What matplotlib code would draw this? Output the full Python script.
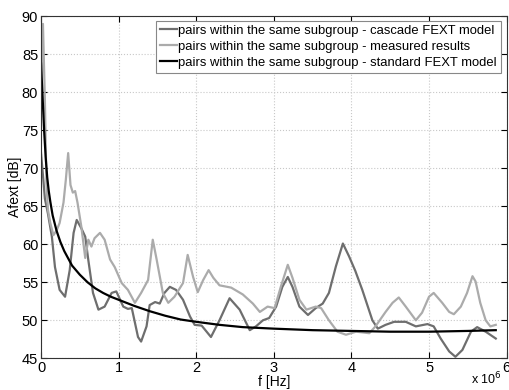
import matplotlib
matplotlib.use("Agg")
import matplotlib.pyplot as plt

# frequencies in units of 1e6 Hz
f_cascade = [0.0, 0.03, 0.05, 0.09, 0.14, 0.18, 0.24, 0.31, 0.37, 0.42, 0.46, 0.52,
             0.57, 0.61, 0.67, 0.74, 0.82, 0.91, 0.97, 1.06, 1.12, 1.17, 1.25, 1.29,
             1.36, 1.40, 1.47, 1.53, 1.59, 1.66, 1.74, 1.83, 1.92, 1.98, 2.07, 2.19,
             2.30, 2.43, 2.56, 2.69, 2.77, 2.86, 2.94, 3.03, 3.11, 3.18, 3.24, 3.33,
             3.44, 3.54, 3.63, 3.71, 3.80, 3.89, 3.97, 4.05, 4.14, 4.27, 4.34, 4.44,
             4.55, 4.70, 4.83, 4.98, 5.06, 5.15, 5.26, 5.34, 5.43, 5.54, 5.62, 5.73,
             5.86]
a_cascade = [72.0, 68.5, 66.0, 64.0, 61.0, 57.0, 54.0, 53.1, 56.6, 61.5, 63.2, 62.1,
             61.0, 57.9, 53.6, 51.4, 51.8, 53.6, 53.8, 51.8, 51.5, 51.6, 47.8, 47.2,
             49.2, 52.0, 52.4, 52.2, 53.6, 54.4, 54.0, 52.7, 50.5, 49.4, 49.3, 47.8,
             50.0, 52.9, 51.4, 48.7, 49.2, 50.0, 50.3, 51.8, 54.4, 55.7, 54.4, 51.8,
             50.7, 51.6, 52.2, 53.6, 57.1, 60.1, 58.4, 56.5, 54.0, 50.0, 48.9, 49.4,
             49.8, 49.8, 49.2, 49.5, 49.2, 47.6, 45.9, 45.2, 46.1, 48.5, 49.1, 48.5,
             47.6]

f_measured = [0.0, 0.025, 0.05, 0.07, 0.09, 0.12, 0.16, 0.20, 0.24, 0.29, 0.32, 0.35,
              0.38, 0.41, 0.44, 0.47, 0.52, 0.57, 0.61, 0.65, 0.69, 0.76, 0.82, 0.89,
              0.95, 1.04, 1.12, 1.21, 1.29, 1.38, 1.44, 1.49, 1.57, 1.64, 1.72, 1.83,
              1.89, 1.96, 2.02, 2.09, 2.16, 2.22, 2.30, 2.45, 2.60, 2.73, 2.82, 2.92,
              3.01, 3.09, 3.18, 3.24, 3.33, 3.42, 3.54, 3.61, 3.71, 3.82, 3.93, 4.06,
              4.15, 4.23, 4.31, 4.44, 4.53, 4.61, 4.70, 4.83, 4.91, 5.00, 5.06, 5.17,
              5.26, 5.32, 5.41, 5.49, 5.56, 5.60, 5.66, 5.73, 5.79, 5.86]
a_measured = [80.0, 89.0, 79.0, 68.0, 64.5, 62.8, 61.2, 61.8, 62.8, 65.5, 68.5, 72.0,
              67.8, 66.8, 67.0, 65.5, 62.3, 58.2, 60.6, 59.7, 60.8, 61.5, 60.6, 58.0,
              57.0, 54.9, 54.0, 52.3, 53.6, 55.3, 60.6, 58.0, 53.6, 52.3, 53.1, 54.9,
              58.6, 55.7, 53.7, 55.3, 56.6, 55.6, 54.6, 54.3, 53.4, 52.2, 51.1, 51.8,
              51.6, 54.4, 57.3, 55.6, 52.7, 51.4, 51.8, 51.6, 50.0, 48.5, 48.1, 48.5,
              48.4, 48.3, 49.2, 51.1, 52.3, 53.0, 51.8, 50.0, 51.0, 53.1, 53.6, 52.3,
              51.1, 50.8, 51.8, 53.6, 55.8, 55.1, 52.3, 50.0, 49.2, 49.4]

f_standard = [0.0, 0.02, 0.04, 0.06, 0.08, 0.10, 0.12, 0.15, 0.20, 0.25, 0.30, 0.40,
              0.50, 0.60, 0.70, 0.80, 0.90, 1.00, 1.20, 1.40, 1.60, 1.80, 2.00, 2.30,
              2.60, 3.00, 3.50, 4.00, 4.50, 5.00, 5.50, 5.86]
a_standard = [83.8, 79.5, 75.0, 71.5, 68.8, 67.0, 65.6, 63.8, 61.8, 60.3, 59.1, 57.2,
              56.0, 55.0, 54.2, 53.6, 53.1, 52.7, 51.9, 51.2, 50.6, 50.1, 49.8, 49.4,
              49.1, 48.9, 48.7, 48.6, 48.5, 48.5, 48.6, 48.7]

labels = ["pairs within the same subgroup - cascade FEXT model",
          "pairs within the same subgroup - measured results",
          "pairs within the same subgroup - standard FEXT model"]

plt.rcParams["font.family"] = ["Liberation Sans", "DejaVu Sans"]
plt.rcParams["font.size"] = 10.5

fig = plt.figure(figsize=(5.1, 3.9), dpi=100)
ax = fig.add_axes([0.0804, 0.0813, 0.913, 0.877])

ax.plot(f_cascade, a_cascade, color="#6e6e6e", lw=1.6, label=labels[0])
ax.plot(f_measured, a_measured, color="#ababab", lw=1.6, label=labels[1])
ax.plot(f_standard, a_standard, color="black", lw=1.6, label=labels[2])

ax.set_xlim(0, 6)
ax.set_ylim(45, 90)
ax.set_xticks(range(0, 7))
ax.set_yticks(range(45, 91, 5))
ax.grid(True, color="#c8c8c8", linestyle=":", linewidth=0.8)
ax.tick_params(direction="in", length=4, top=True, right=True, pad=2)
for s in ax.spines.values():
    s.set_color("#333333")

ax.set_xlabel("f [Hz]", labelpad=0, fontsize=10)
ax.set_ylabel("Afext [dB]", labelpad=0, fontsize=10)
ax.text(0.99, -0.035, "x 10$^6$", transform=ax.transAxes, ha="right", va="top", fontsize=9)

leg = ax.legend(loc="upper right", bbox_to_anchor=(0.987, 0.987), fontsize=9.4,
                handlelength=1.3, handletextpad=0.1, borderpad=0.3, labelspacing=0.3,
                borderaxespad=0, fancybox=False, framealpha=1)
leg.get_frame().set_edgecolor("#888888")
leg.get_frame().set_linewidth(0.8)

fig.savefig("out.png", dpi=100)
